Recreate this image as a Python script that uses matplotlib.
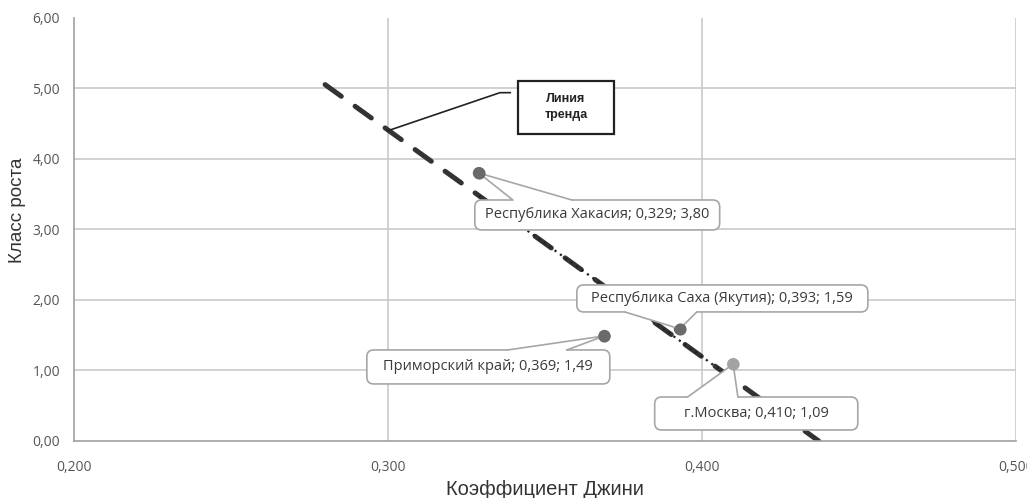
import numpy as np
import matplotlib
matplotlib.use("Agg")
import matplotlib.pyplot as plt
from matplotlib.patches import Rectangle, FancyBboxPatch, Polygon
from matplotlib.ticker import FuncFormatter

# data
regions = ["Республика Хакасия", "Приморский край", "Республика Саха (Якутия)", "г.Москва"]
gini = [0.329, 0.369, 0.393, 0.410]
growth = [3.80, 1.49, 1.59, 1.09]
point_colors = ["#6a6a6a", "#6a6a6a", "#6a6a6a", "#a3a3a3"]

# callout layout in data coords: box (x0, x1, y0, y1), pointer base (xa, xb), base on top/bottom
label_box = [(0.3277, 0.4057, 2.993, 3.418),
             (0.2933, 0.3707, 0.809, 1.291),
             (0.3602, 0.4529, 1.830, 2.213),
             (0.3850, 0.4497, 0.156, 0.624)]
label_base = [(0.3398, 0.3586, "top"),
              (0.3382, 0.3570, "top"),
              (0.3755, 0.3984, "bottom"),
              (0.3955, 0.4115, "top")]

plt.rcParams["font.family"] = ["Open Sans", "DejaVu Sans"]


def ru(v, n):
    return f"{v:.{n}f}".replace(".", ",")


fig = plt.figure(figsize=(10.27, 4.98), dpi=100)
ax = fig.add_axes([0.072, 0.1145, 0.917, 0.8495])

ax.set_xlim(0.2, 0.5)
ax.set_ylim(0, 6)

for yv in [1, 2, 3, 4, 5]:
    ax.axhline(yv, color="#c9c9c9", lw=1.2, zorder=0)
for xv in [0.3, 0.4, 0.5]:
    ax.axvline(xv, color="#c9c9c9", lw=1.2, zorder=0)

for s in ["top", "right"]:
    ax.spines[s].set_visible(False)
for s in ["left", "bottom"]:
    ax.spines[s].set_color("#a0a0a0")
    ax.spines[s].set_linewidth(1.2)

ax.set_xticks([0.2, 0.3, 0.4, 0.5])
ax.set_yticks(np.arange(0, 7, 1))
ax.xaxis.set_major_formatter(FuncFormatter(lambda v, p: ru(v, 3)))
ax.yaxis.set_major_formatter(FuncFormatter(lambda v, p: ru(v, 2)))
ax.tick_params(length=0, labelsize=10, colors="#555555", pad=10)
ax.tick_params(axis="x", pad=14)

ax.set_xlabel("Коэффициент Джини", fontsize=14.5, family=["Liberation Sans", "DejaVu Sans"],
              color="#333333", va="baseline")
ax.xaxis.set_label_coords(0.5, -0.1277)
ax.set_ylabel("Класс роста", fontsize=13.5, family=["Liberation Sans", "DejaVu Sans"],
              color="#333333", va="center")
ax.yaxis.set_label_coords(-0.060, 0.546)

# linear trend
k, b = np.polyfit(gini, growth, 1)
x_long = np.array([0.28, -b / k])
ax.plot(x_long, k * x_long + b, color="#333333", lw=3.6, ls=(0, (4, 3.4)),
        solid_capstyle="round", dash_capstyle="round", zorder=2)
x_short = np.array([min(gini), max(gini)])
ax.plot(x_short, k * x_short + b, color="#222222", lw=1.6, ls=(0, (1, 2)), zorder=2)

ax.scatter(gini, growth, s=60, c=point_colors, zorder=4)

# aspect between y and x data units (pixels per unit ratio)
aspect = (6 / 423) / (0.3 / 942)
dy_in = 2.5 / 70.5
for i, (name, x, y) in enumerate(zip(regions, gini, growth)):
    x0, x1, y0, y1 = label_box[i]
    xa, xb, side = label_base[i]
    ax.add_patch(FancyBboxPatch((x0, y0), x1 - x0, y1 - y0,
                                boxstyle="round,pad=0,rounding_size=0.0022",
                                mutation_aspect=aspect, fc="white", ec="#a6a6a6",
                                lw=1.2, zorder=5))
    ye = y1 if side == "top" else y0
    yin = ye - dy_in if side == "top" else ye + dy_in
    ax.add_patch(Polygon([(xa, yin), (xa, ye), (x, y), (xb, ye), (xb, yin)],
                         closed=True, fc="white", ec="none", zorder=6))
    ax.plot([xa, x, xb], [ye, y, ye], color="#a6a6a6", lw=1.2, zorder=6)
    ax.scatter([x], [y], s=60, c=[point_colors[i]], zorder=7)
    txt = f"{name}; {ru(x, 3)}; {ru(y, 2)}"
    ax.text((x0 + x1) / 2, (y0 + y1) / 2, txt, ha="center", va="center",
            fontsize=10.5, color="#3a3a3a", zorder=8)

# callout for the trend line
ax.plot([0.3, 0.3357, 0.339], [4.40, 4.94, 4.94], color="#222222", lw=1.2, zorder=3)
ax.add_patch(Rectangle((0.3414, 4.355), 0.0306, 0.751, fc="white", ec="#222222",
                       lw=1.6, zorder=5))
ax.text(0.3567, 4.74, "Линия\nтренда", ha="center", va="center", fontsize=9,
        fontweight="bold", family=["Liberation Sans", "DejaVu Sans"], color="#222222",
        linespacing=1.5, zorder=6)

fig.savefig("out.png", dpi=100)
